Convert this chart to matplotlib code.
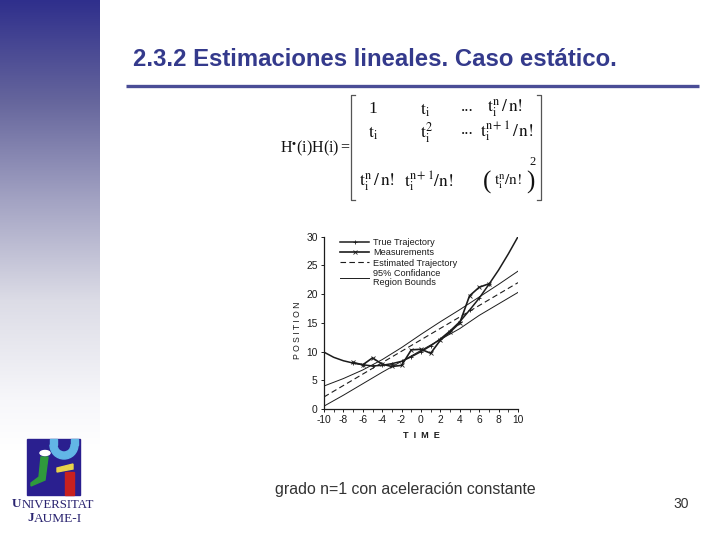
import numpy as np
import matplotlib
matplotlib.use("Agg")
import matplotlib.pyplot as plt
from matplotlib.patches import Rectangle, Polygon, Ellipse, Wedge

plt.rcParams['font.family'] = ['Liberation Sans', 'DejaVu Sans']
plt.rcParams['mathtext.fontset'] = 'stix'
plt.rcParams['axes.unicode_minus'] = False

# valores
t_true = [-10, -9, -8, -7, -6, -5, -4, -3, -2, -1, 0, 1, 2, 3, 4, 5, 6, 7, 8, 9, 10]
x_true = [9.9, 9.0, 8.4, 8.0, 7.7, 7.5, 7.6, 7.9, 8.3, 9.1, 10.0, 11.0, 12.2, 13.6, 15.2, 17.2, 19.3, 21.7, 24.2, 27.0, 30.0]
t_meas = [-7, -6, -5, -4, -3, -2, -1, 0, 1, 2, 3, 4, 5, 6, 7]
x_meas = [8.1, 7.7, 8.9, 7.8, 7.4, 7.6, 10.3, 10.4, 9.7, 12.0, 13.4, 15.0, 19.7, 21.2, 21.8]
t_est = [-10, 10]
x_est = [2.1, 22.0]
t_bound = [-10, -8, -6, -4, -2, 0, 2, 4, 6, 8, 10]
x_upper = [4.0, 5.3, 6.8, 8.6, 10.7, 13.0, 15.2, 17.3, 19.5, 21.7, 24.0]
x_lower = [0.5, 2.4, 4.4, 6.4, 8.3, 10.2, 12.1, 14.0, 16.3, 18.3, 20.3]
x_ticks = [-10, -8, -6, -4, -2, 0, 2, 4, 6, 8, 10]
y_ticks = [0, 5, 10, 15, 20, 25, 30]

NAVY = '#343a8c'
INK = '#1c1c1c'

fig = plt.figure(figsize=(7.2, 5.4), dpi=100, facecolor='white')

# fondo en pixeles
bg = fig.add_axes([0, 0, 1, 1])

# barra lateral degradada
rows = np.arange(540)
stops_y = [0, 100, 200, 300, 400, 450, 540]
stops_r = [0x2f, 0x65, 0xa3, 0xdc, 0xf7, 0xff, 0xff]
stops_g = [0x2f, 0x65, 0xa3, 0xdc, 0xf7, 0xff, 0xff]
stops_b = [0x8c, 0x9c, 0xc3, 0xe6, 0xfa, 0xff, 0xff]
rgb = np.ones((540, 1, 3))
rgb[:, 0, 0] = np.interp(rows, stops_y, stops_r) / 255
rgb[:, 0, 1] = np.interp(rows, stops_y, stops_g) / 255
rgb[:, 0, 2] = np.interp(rows, stops_y, stops_b) / 255
bg.imshow(rgb, extent=[0, 100, 540, 0], aspect='auto', zorder=0)
bg.set_xlim(0, 720)
bg.set_ylim(540, 0)
bg.axis('off')

# titulo y linea
bg.text(133, 59, '2.3.2 Estimaciones lineales. Caso estático.', fontsize=17.2, color=NAVY,
        fontweight='bold', va='center', ha='left')
bg.plot([126, 699], [85.5, 85.5], color='#4a4d96', lw=2.4, solid_capstyle='butt')

# matriz
serif = ['Liberation Serif', 'DejaVu Serif']
bg.text(280, 148, r"H$^{\bullet}$(i)H(i)$\,$=", family=serif, fontsize=11.5, va='center', color='#111111')
bg.plot([355, 351, 351, 355], [95, 95, 200, 200], color='#555555', lw=0.9)
bg.plot([537, 541, 541, 537], [95, 95, 200, 200], color='#555555', lw=0.9)
cells = [
    (373, 109, '1'), (425, 110, r'$\mathrm{t_i}$'), (467, 107, '...'), (505, 108, r'$\mathrm{t_i^n}\,/\,\mathrm{n!}$'),
    (373, 133, r'$\mathrm{t_i}$'), (426, 133, r'$\mathrm{t_i^2}$'), (467, 130, '...'), (507, 132, r'$\mathrm{t_i^{n+1}}\,/\,\mathrm{n!}$'),
    (377, 182, r'$\mathrm{t_i^n}\,/\,\mathrm{n!}$'), (429, 182, r'$\mathrm{t_i^{n+1}}/\mathrm{n!}$'),
]
for cx, cy, s in cells:
    bg.text(cx, cy, s, family=serif, fontsize=12.5, ha='center', va='center', color='#111111')
# ultimo elemento con parentesis grandes
bg.text(508, 182, r'$\mathrm{t_i^n}/\mathrm{n!}$', family=serif, fontsize=11, ha='center', va='center', color='#111111')
bg.text(487, 182, '(', family=serif, fontsize=18, ha='center', va='center', color='#111111')
bg.text(530, 182, ')', family=serif, fontsize=18, ha='center', va='center', color='#111111')
bg.text(533, 162, '2', family=serif, fontsize=9, ha='center', va='center', color='#111111')

# pie y numero
bg.text(405, 489.5, 'grado n=1 con aceleración constante', fontsize=11.4, color='#333333', ha='center', va='center')
bg.text(681, 504, '30', fontsize=10, color='#333333', ha='center', va='center')

# logo
bg.add_patch(Rectangle((27, 439), 53, 56, color='#2a1f8f', zorder=2))
bg.add_patch(Wedge((64, 445), 14, 0, 180, width=7, color='#62b6e6', zorder=3))
bg.add_patch(Rectangle((50, 439), 7, 6, color='#62b6e6', zorder=3))
bg.add_patch(Rectangle((71, 439), 7, 6, color='#62b6e6', zorder=3))
bg.add_patch(Polygon([[41, 457], [48, 457], [45, 480], [31, 486], [31, 483], [39, 477]], color='#2f9a3c', zorder=3))
bg.add_patch(Ellipse((45, 453), 10, 5, color='white', zorder=3))
bg.add_patch(Polygon([[57, 468], [73, 464], [73, 469], [57, 472]], color='#e8d24a', zorder=3))
bg.add_patch(Rectangle((65, 472), 9, 23, color='#c8201f', zorder=3))
bg.text(12, 504, 'U', family=serif, fontsize=9.5, fontweight='bold', ha='left', va='center', color='#2a2470', zorder=3)
bg.text(22, 504.5, 'NIVERSITAT', family=serif, fontsize=9.2, ha='left', va='center', color='#2a2470', zorder=3)
bg.text(27, 518, 'J', family=serif, fontsize=9.5, fontweight='bold', ha='left', va='center', color='#2a2470', zorder=3)
bg.text(34, 518.5, 'AUME-I', family=serif, fontsize=9.6, ha='left', va='center', color='#2a2470', zorder=3)

# grafica
ax = fig.add_axes([324 / 720, 1 - 409 / 540, 194 / 720, 172.3 / 540])
ax.patch.set_alpha(0)
ax.plot(t_true, x_true, color=INK, lw=1.1, marker='+', ms=2.5, mew=0.6, markevery=list(range(3, 18)), label='True Trajectory')
ax.plot(t_meas, x_meas, color=INK, lw=1.2, marker='x', ms=2.2, mew=0.6, label='Measurements')
ax.plot(t_est, x_est, color=INK, lw=0.8, ls=(0, (5, 3)), label='Estimated Trajectory')
ax.plot(t_bound, x_upper, color=INK, lw=0.7, label='95% Confidance\nRegion Bounds')
ax.plot(t_bound, x_lower, color=INK, lw=0.7)
ax.set_xlim(-10, 10)
ax.set_ylim(0, 30)
ax.set_xticks(x_ticks)
ax.set_yticks(y_ticks)
ax.set_xticks(range(-10, 11), minor=True)
ax.tick_params(axis='both', labelsize=7.4, length=2.5, width=0.7, color=INK, labelcolor=INK, pad=2)
ax.tick_params(axis='x', which='minor', length=2, width=0.6, color=INK)
for side in ['top', 'right']:
    ax.spines[side].set_visible(False)
for side in ['left', 'bottom']:
    ax.spines[side].set_linewidth(0.9)
    ax.spines[side].set_color(INK)
ax.set_xlabel('T  I  M  E', fontsize=6.6, fontweight='bold', color=INK, labelpad=4)
ax.set_ylabel('P O S I T I O N', fontsize=6.2, color=INK)
ax.yaxis.set_label_coords(-0.113, 0.458)
leg = ax.legend(loc='upper left', bbox_to_anchor=(0.085, 0.992), frameon=False, fontsize=6.6, handlelength=3.1,
                handletextpad=0.5, labelspacing=0.14, borderpad=0, borderaxespad=0, labelcolor=INK)
for t in leg.get_texts():
    t.set_linespacing(1.0)

fig.savefig('out.png', dpi=100)
